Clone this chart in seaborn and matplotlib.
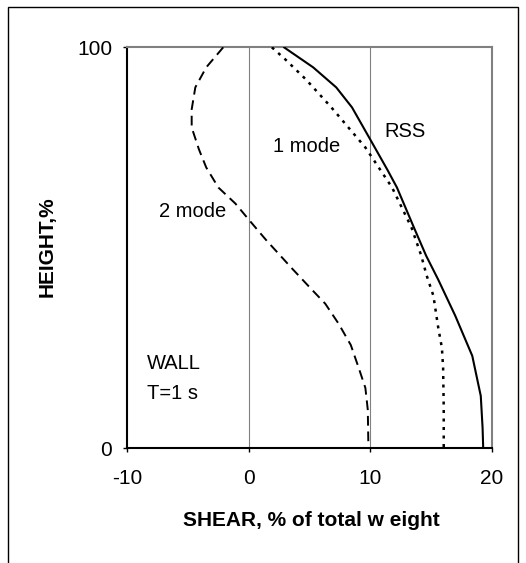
import matplotlib
matplotlib.use("Agg")
import matplotlib.pyplot as plt
import seaborn as sns
import pandas as pd
from matplotlib.patches import Rectangle

# Data
rss_shear = [2.9, 5.3, 7.2, 8.5, 10.0, 11.4, 12.2, 13.6, 14.6, 15.6, 17.0, 18.4, 19.1, 19.25, 19.3]
rss_height = [100, 95, 90, 85, 77, 69.5, 65, 55, 48, 42, 33, 23, 13, 5, 0]

mode1_shear = [1.9, 3.0, 4.7, 6.8, 8.2, 9.6, 10.7, 11.8, 13.4, 14.2, 14.65, 15.2, 15.6, 15.9, 16.0, 16.05, 16.05]
mode1_height = [100, 97, 92, 85, 80, 75, 70, 65, 55, 48, 43, 38, 30, 25, 20, 10, 0]

mode2_shear = [-2.1, -3.5, -4.4, -4.7, -4.7, -4.1, -3.5, -2.5, -1.1, 0.0, 1.4, 3.5, 5.2, 6.3, 7.4, 8.4, 9.05, 9.6, 9.8, 9.85]
mode2_height = [100, 95, 90, 84.5, 80, 74.5, 70, 65, 61, 57, 52, 45, 39.5, 36, 31, 25.7, 20, 15, 9.5, 0]

x_ticks = [-10, 0, 10, 20]
y_ticks = [0, 100]

sns.set_theme(style="white")
plt.rcParams['font.family'] = ['Liberation Sans', 'DejaVu Sans']
plt.rcParams['axes.unicode_minus'] = False
plt.rcParams['text.color'] = 'black'
plt.rcParams['axes.labelcolor'] = 'black'
plt.rcParams['xtick.color'] = 'black'
plt.rcParams['ytick.color'] = 'black'

fig = plt.figure(figsize=(5.26, 5.63), dpi=100)
ax = fig.add_axes([127.3/526, 1-448/563, (491.7-127.3)/526, (448-47.3)/563])

for xv in [0, 10]:
    ax.axvline(xv, color="#808080", lw=0.8, zorder=1)

df_rss = pd.DataFrame({"shear": rss_shear, "height": rss_height})
df_m1 = pd.DataFrame({"shear": mode1_shear, "height": mode1_height})
df_m2 = pd.DataFrame({"shear": mode2_shear, "height": mode2_height})

sns.lineplot(data=df_rss, x="shear", y="height", sort=False, estimator=None,
             color="black", lw=1.5, ax=ax, zorder=3)
sns.lineplot(data=df_m1, x="shear", y="height", sort=False, estimator=None,
             color="black", lw=1.8, ax=ax, zorder=3)
ax.lines[-1].set_dashes([1.2, 2.2])
sns.lineplot(data=df_m2, x="shear", y="height", sort=False, estimator=None,
             color="black", lw=1.4, ax=ax, zorder=3)
ax.lines[-1].set_dashes([5, 3])

ax.set_xlim(-10, 20)
ax.set_ylim(0, 100)
ax.set_xticks(x_ticks)
ax.set_yticks(y_ticks)
ax.tick_params(axis="both", direction="out", length=3, width=1, color="black",
               labelsize=15, bottom=True, left=True)
ax.tick_params(axis="x", pad=12)
ax.tick_params(axis="y", pad=8)

for s in ["left", "bottom"]:
    ax.spines[s].set_color("black")
    ax.spines[s].set_linewidth(1.5)
for s in ["top", "right"]:
    ax.spines[s].set_color("#808080")
    ax.spines[s].set_linewidth(1.5)

ax.set_xlabel("SHEAR, % of total w eight", fontsize=15, fontweight="bold")
ax.set_ylabel("HEIGHT,%", fontsize=15, fontweight="bold")
ax.xaxis.set_label_coords((311-127.3)/364.4, (448-520)/400.7)
ax.xaxis.label.set_verticalalignment("center")
ax.yaxis.set_label_coords((47-127.3)/364.4, (448-247)/400.7)
ax.yaxis.label.set_verticalalignment("center")

ax.text(12.9, 79, "RSS", fontsize=14.5, ha="center", va="center")
ax.text(4.8, 75.3, "1 mode", fontsize=14.5, ha="center", va="center")
ax.text(-4.6, 59, "2 mode", fontsize=14.5, ha="center", va="center")
ax.text(-8.4, 21.2, "WALL", fontsize=14.5, ha="left", va="center")
ax.text(-8.4, 13.7, "T=1 s", fontsize=14.5, ha="left", va="center")

fig.patches.append(Rectangle((7.5/526, -0.05), (518-7.5)/526, 1-7.5/563+0.05,
                             transform=fig.transFigure, fill=False,
                             edgecolor="black", lw=1.0))

fig.savefig("out.png", dpi=100)
